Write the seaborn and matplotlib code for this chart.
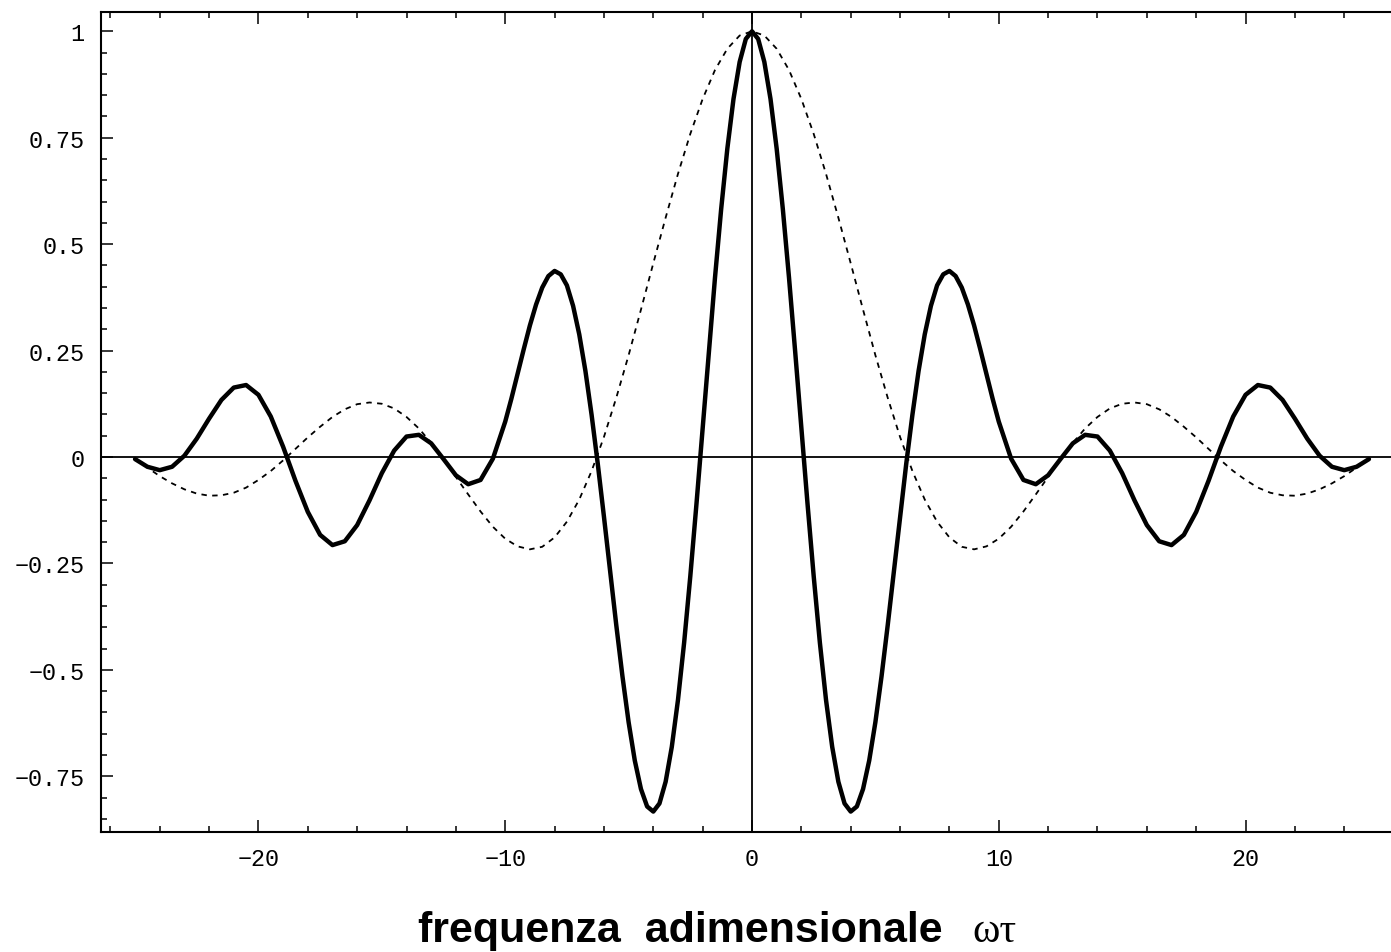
import matplotlib
matplotlib.use("Agg")
import matplotlib.pyplot as plt
import seaborn as sns
import pandas as pd
from matplotlib.ticker import FixedLocator, MultipleLocator

# half-range samples (both curves are even)
# solid curve: finer steps around the main lobes
x_solid_half = [0.0, 0.25, 0.5, 0.75, 1.0, 1.25, 1.5, 1.75, 2.0, 2.25, 2.5, 2.75, 3.0, 3.25,
                3.5, 3.75, 4.0, 4.25, 4.5, 4.75, 5.0, 5.25, 5.5, 5.75, 6.0, 6.25, 6.5, 6.75,
                7.0, 7.25, 7.5, 7.75, 8.0, 8.25, 8.5, 8.75, 9.0, 9.25, 9.5, 9.75, 10.0,
                10.5, 11.0, 11.5, 12.0, 12.5, 13.0, 13.5, 14.0, 14.5, 15.0, 15.5, 16.0,
                16.5, 17.0, 17.5, 18.0, 18.5, 19.0, 19.5, 20.0, 20.5, 21.0, 21.5, 22.0,
                22.5, 23.0, 23.5, 24.0, 24.5, 25.0]
solid_half = [1.000, 0.982, 0.928, 0.841, 0.724, 0.582, 0.421, 0.247, 0.068, -0.110,
              -0.280, -0.436, -0.571, -0.681, -0.763, -0.814, -0.833, -0.821, -0.780,
              -0.713, -0.623, -0.515, -0.395, -0.268, -0.140, -0.016, 0.099, 0.202, 0.288,
              0.355, 0.403, 0.429, 0.437, 0.425, 0.398, 0.358, 0.309, 0.253, 0.195, 0.137,
              0.083, -0.004, -0.054, -0.064, -0.043, -0.005, 0.032, 0.052, 0.048, 0.015,
              -0.038, -0.102, -0.160, -0.198, -0.207, -0.183, -0.129, -0.056, 0.024, 0.095,
              0.146, 0.169, 0.163, 0.134, 0.090, 0.043, 0.003, -0.023, -0.031, -0.023,
              -0.005]

x_dashed_half = [0.0, 0.5, 1.0, 1.5, 2.0, 2.5, 3.0, 3.5, 4.0, 4.5, 5.0, 5.5, 6.0, 6.5, 7.0,
                 7.5, 8.0, 8.5, 9.0, 9.5, 10.0, 10.5, 11.0, 11.5, 12.0, 12.5, 13.0, 13.5,
                 14.0, 14.5, 15.0, 15.5, 16.0, 16.5, 17.0, 17.5, 18.0, 18.5, 19.0, 19.5,
                 20.0, 20.5, 21.0, 21.5, 22.0, 22.5, 23.0, 23.5, 24.0, 24.5, 25.0]
dashed_half = [1.000, 0.990, 0.959, 0.909, 0.841, 0.759, 0.665, 0.562, 0.455, 0.346,
               0.239, 0.139, 0.047, -0.033, -0.100, -0.152, -0.189, -0.211, -0.217, -0.210,
               -0.192, -0.164, -0.128, -0.088, -0.047, -0.005, 0.033, 0.067, 0.094, 0.114,
               0.125, 0.128, 0.124, 0.112, 0.094, 0.071, 0.046, 0.019, -0.008, -0.033,
               -0.054, -0.072, -0.084, -0.090, -0.091, -0.086, -0.076, -0.062, -0.045,
               -0.025, -0.005]

x_ticks = [-20, -10, 0, 10, 20]
x_ticklabels = ["\u221220", "\u221210", "0", "10", "20"]
y_ticks = [-0.75, -0.5, -0.25, 0, 0.25, 0.5, 0.75, 1]
y_ticklabels = ["\u22120.75", "\u22120.5", "\u22120.25", "0", "0.25", "0.5", "0.75", "1"]


def mirror(half, neg=False):
    left = [(-v if neg else v) for v in reversed(half[1:])]
    return left + list(half)


solid_df = pd.DataFrame({"x": mirror(x_solid_half, neg=True), "y": mirror(solid_half)})
dashed_df = pd.DataFrame({"x": mirror(x_dashed_half, neg=True), "y": mirror(dashed_half)})

sns.set_style("ticks")
plt.rcParams['font.family'] = ['Liberation Mono', 'DejaVu Sans Mono']

fig = plt.figure(figsize=(13.91, 9.53), dpi=100)
ax = fig.add_axes([101 / 1391, 1 - 833 / 953, 1302 / 1391, 820 / 953])

sns.lineplot(data=dashed_df, x="x", y="y", color="black", lw=1.3,
             linestyle=(0, (3.0, 3.0)), ax=ax)
sns.lineplot(data=solid_df, x="x", y="y", color="black", lw=3.2, ax=ax)

ax.axhline(0, color="black", lw=1.3, zorder=1)
ax.axvline(0, color="black", lw=1.3, zorder=1)

ax.set_xlim(-26.38, 26.38)
ax.set_ylim(-0.881, 1.0453)

ax.xaxis.set_major_locator(FixedLocator(x_ticks))
ax.set_xticklabels(x_ticklabels)
ax.xaxis.set_minor_locator(MultipleLocator(2))
ax.yaxis.set_major_locator(FixedLocator(y_ticks))
ax.set_yticklabels(y_ticklabels)
ax.yaxis.set_minor_locator(MultipleLocator(0.05))

ax.tick_params(which="both", direction="in", top=True, right=True, color="black",
               width=1.1, labelsize=16.8, labelcolor="black")
ax.tick_params(which="major", length=8.5)
ax.tick_params(which="minor", length=4.3)
ax.tick_params(axis="y", pad=12)
ax.tick_params(axis="x", pad=11)

for s in ax.spines.values():
    s.set_linewidth(1.5)
    s.set_color("black")

ax.set_xlabel("")
ax.set_ylabel("")

fig.text(418 / 1391, 1 - 942 / 953, "frequenza  adimensionale", ha="left", va="baseline",
         fontsize=31, fontweight="bold", color="black",
         family=["Liberation Sans", "DejaVu Sans"])
fig.text(972 / 1391, 1 - 942 / 953, "\u03c9\u03c4", ha="left", va="baseline",
         fontsize=30, color="black", family=["Liberation Serif", "DejaVu Serif"])

fig.savefig("out.png", dpi=100)
